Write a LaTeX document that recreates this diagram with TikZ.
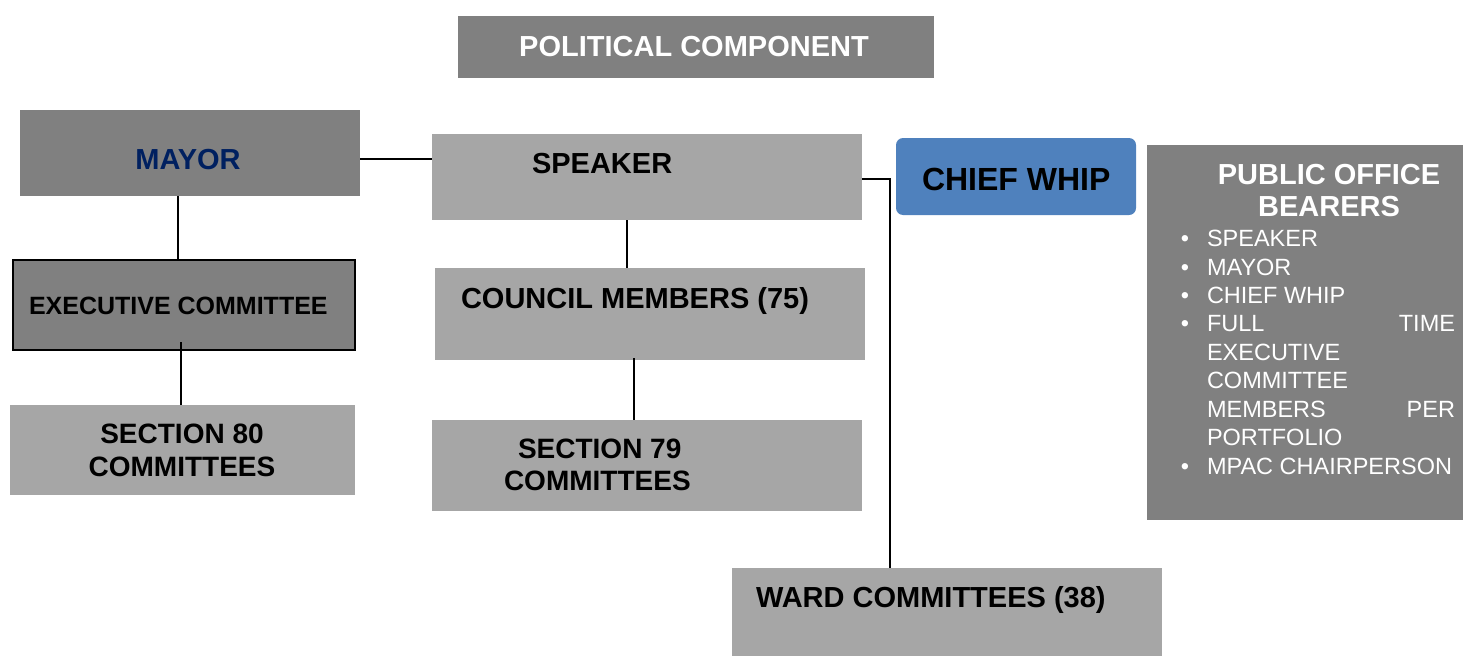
\documentclass[tikz,border=0pt]{standalone}
\usepackage{fontspec}
\setmainfont{Liberation Sans}
\definecolor{dgray}{HTML}{808080}
\definecolor{lgray}{HTML}{A6A6A6}
\definecolor{whipblue}{HTML}{4F81BD}
\definecolor{navy}{HTML}{002060}
\begin{document}
\begin{tikzpicture}[x=1pt,y=-1pt,
  dbox/.style={fill=dgray, draw=none, inner sep=0pt, outer sep=0pt, anchor=north west},
  lbox/.style={fill=lgray, draw=none, inner sep=0pt, outer sep=0pt, anchor=north west},
  txt/.style={inner sep=0pt, outer sep=0pt, font=\bfseries\fontsize{29}{34}\selectfont},
  item/.style={inner sep=0pt, outer sep=0pt, anchor=base west, text=white, font=\fontsize{23.5}{28}\selectfont},
  bul/.style={inner sep=0pt, outer sep=0pt, anchor=base, text=white, font=\fontsize{23.5}{28}\selectfont},
  conn/.style={draw=black, line width=1.8pt}]
\useasboundingbox (0,0) rectangle (1463,656);

% boxes
\node[dbox, minimum width=476pt, minimum height=62pt] (polbox) at (458,16) {};
\node[dbox, minimum width=340pt, minimum height=86pt] (mayor) at (20,110) {};
\node[lbox, minimum width=430pt, minimum height=86pt] (speaker) at (432,134) {};
\node[fill=whipblue, rounded corners=7pt, inner sep=0pt, outer sep=0pt, anchor=north west,
      minimum width=240pt, minimum height=77pt] (whip) at (896,138) {};
\node[dbox, minimum width=316pt, minimum height=375pt] (pob) at (1147,145) {};
\node[dbox, draw=black, line width=2pt, minimum width=342pt, minimum height=90pt] (exec) at (13,260) {};
\node[lbox, minimum width=430pt, minimum height=92pt] (council) at (435,268) {};
\node[lbox, minimum width=345pt, minimum height=90pt] (sec80) at (10,405) {};
\node[lbox, minimum width=430pt, minimum height=91pt] (sec79) at (432,420) {};
\node[lbox, minimum width=430pt, minimum height=88pt] (ward) at (732,568) {};

% texts
\node[txt, anchor=base, text=white] (poltxt) at (694,56.4) {POLITICAL COMPONENT};
\node[txt, anchor=base, text=navy] (mayortxt) at (188,169) {MAYOR};
\node[txt, anchor=base west] (speakertxt) at (532,173) {SPEAKER};
\node[txt, anchor=base west, font=\bfseries\fontsize{32}{36}\selectfont] (whiptxt) at (922,190) {CHIEF WHIP};
\node[txt, anchor=base west, font=\bfseries\fontsize{25}{30}\selectfont] (exectxt) at (29,314.5) {EXECUTIVE COMMITTEE};
\node[txt, anchor=base west] (counciltxt) at (461,308) {COUNCIL MEMBERS (75)};
\node[txt, anchor=base, font=\bfseries\fontsize{28}{32}\selectfont] (sec80a) at (182,443.5) {SECTION 80};
\node[txt, anchor=base, font=\bfseries\fontsize{28}{32}\selectfont] (sec80b) at (182,476.5) {COMMITTEES};
\node[txt, anchor=base west, font=\bfseries\fontsize{28}{32}\selectfont] (sec79a) at (518,458.5) {SECTION 79};
\node[txt, anchor=base west, font=\bfseries\fontsize{28}{32}\selectfont] (sec79b) at (504,490) {COMMITTEES};
\node[txt, anchor=base west] (wardtxt) at (756,607) {WARD COMMITTEES (38)};

% public office bearers
\node[txt, anchor=base, text=white] (pobt1) at (1329,184) {PUBLIC OFFICE};
\node[txt, anchor=base, text=white] (pobt2) at (1329,216) {BEARERS};
\node[bul] (b1) at (1185,246.7) {\textbullet};
\node[bul] (b2) at (1185,275.1) {\textbullet};
\node[bul] (b3) at (1185,303.5) {\textbullet};
\node[bul] (b4) at (1185,331.9) {\textbullet};
\node[bul] (b5) at (1185,474) {\textbullet};
\node[item] (i1) at (1207,246.7) {SPEAKER};
\node[item] (i2) at (1207,275.1) {MAYOR};
\node[item] (i3) at (1207,303.5) {CHIEF WHIP};
\node[item] (i4) at (1207,331.9) {\makebox[248pt][l]{FULL\hfill TIME}};
\node[item] (i5) at (1207,360.3) {EXECUTIVE};
\node[item] (i6) at (1207,388.7) {COMMITTEE};
\node[item] (i7) at (1207,417.1) {\makebox[248pt][l]{MEMBERS\hfill PER}};
\node[item] (i8) at (1207,445.5) {PORTFOLIO};
\node[item] (i9) at (1207,474) {MPAC CHAIRPERSON};

% connectors
\coordinate (ms) at ([yshift=-6pt]mayor.east);
\draw[conn] (ms) -- (ms -| speaker.west);
\coordinate (me) at ([xshift=-12pt]mayor.south);
\draw[conn] (me) -- (me |- exec.north);
\coordinate (es) at ([xshift=-3pt,yshift=8pt]exec.south);
\draw[conn] (es) -- (es |- sec80.north);
\coordinate (sc) at ([xshift=-20pt]speaker.south);
\draw[conn] (sc) -- (sc |- council.north);
\coordinate (cs) at ([xshift=-16pt,yshift=2pt]council.south);
\draw[conn] (cs) -- (cs |- sec79.north);
\coordinate (sw) at ([yshift=-2pt]speaker.east);
\coordinate (wn) at ([xshift=-57pt]ward.north);
\draw[conn] (sw) -| (wn);
\end{tikzpicture}
\end{document}
